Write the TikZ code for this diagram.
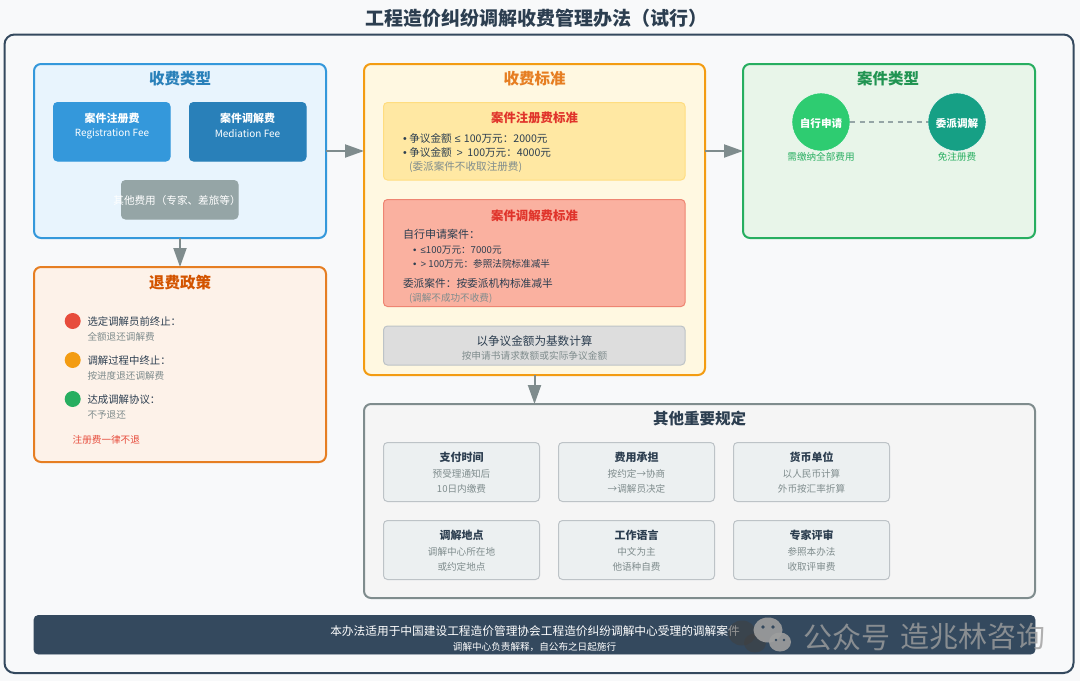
\documentclass[tikz,border=0pt]{standalone}
\usepackage{fontspec}
\setmainfont{Noto Sans CJK SC}
\newfontfamily\latinf{Liberation Sans}
\usetikzlibrary{arrows.meta,calc}
\definecolor{bgc}{HTML}{F8F9FA}
\definecolor{ink}{HTML}{2C3E50}
\definecolor{subc}{HTML}{7F8C8D}
\definecolor{navy}{HTML}{34495E}
\definecolor{blue1}{HTML}{3498DB}
\definecolor{blue2}{HTML}{2980B9}
\definecolor{panelblue}{HTML}{E8F4FD}
\definecolor{panelyellow}{HTML}{FFF8E1}
\definecolor{orange1}{HTML}{F39C12}
\definecolor{orange2}{HTML}{E67E22}
\definecolor{orange3}{HTML}{D35400}
\definecolor{panelgreen}{HTML}{E8F5E9}
\definecolor{green1}{HTML}{27AE60}
\definecolor{green2}{HTML}{2ECC71}
\definecolor{teal1}{HTML}{16A085}
\definecolor{panelorange}{HTML}{FDF2E9}
\definecolor{panelgrey}{HTML}{F5F5F5}
\definecolor{cardc}{HTML}{ECF0F1}
\definecolor{edgec}{HTML}{BDC3C7}
\definecolor{red1}{HTML}{E74C3C}
\definecolor{red2}{HTML}{E0342B}
\definecolor{yfill}{HTML}{FFE8A3}
\definecolor{yedge}{HTML}{FFDD80}
\definecolor{rfill}{HTML}{FAB1A0}
\definecolor{redge}{HTML}{EE8572}
\definecolor{gfill}{HTML}{DDDDDD}
\definecolor{greyc}{HTML}{95A5A6}
\tikzset{
  x=1pt,y=-1pt,
  boxbase/.style={rectangle,inner sep=0pt,outer sep=0pt,draw},
  panel/.style={boxbase,rounded corners=7pt,line width=2pt},
  inner box/.style={boxbase,rounded corners=4pt,line width=1pt},
  card/.style={inner box,fill=cardc,draw=edgec},
  txt/.style={inner sep=0pt,outer sep=0pt,text=ink},
  leftt/.style={txt,anchor=west},
  fs/.style={font=\fontsize{#1}{#1}\selectfont},
  fb/.style={font=\fontsize{#1}{#1}\selectfont\bfseries},
  flow/.style={draw=subc,line width=2pt,-{Triangle[length=19pt,width=13pt]}},
  dot/.style={circle,inner sep=0pt,outer sep=0pt,minimum size=16pt},
  case/.style={circle,inner sep=0pt,outer sep=0pt,minimum size=58pt,draw=white,line width=.4pt},
  cardhead/.style={txt,fb=11},
  cardsub/.style={txt,fs=9.6,text=subc},
  wm/.style={txt,fs=29,text=white!62!black,opacity=.8},
}
\newcommand{\bx}[6]{\node[#2,minimum width={(#5-#3)*1pt},minimum height={(#6-#4)*1pt}] (#1) at ({(#3+#5)/2},{(#4+#6)/2}) {};}
\newcommand{\tx}[5]{\node[#2] (#1) at (#3,#4) {#5};}
\newcommand{\lsym}[1]{\hspace{.3em}{\latinf #1}\hspace{.3em}}
\newcommand{\ssym}[1]{{\latinf #1}}
\newcommand{\bul}{{\latinf\textbullet}\hspace{.25em}}
\newcommand{\bulw}{{\latinf\textbullet}\hspace{.45em}}
\newcommand{\cardblock}[6]{%
  \bx{#1}{card}{#2}{#3}{#2+156}{#3+59}
  \tx{#1h}{cardhead}{#2+78}{#3+15}{#4}
  \tx{#1a}{cardsub}{#2+78}{#3+31}{#5}
  \tx{#1b}{cardsub}{#2+78}{#3+46}{#6}}
\begin{document}
\begin{tikzpicture}
\useasboundingbox (0,0) rectangle (1080,681);
\fill[bgc] (0,0) rectangle (1080,681);
\tx{title}{txt,fb=19}{536}{18}{工程造价纠纷调解收费管理办法（试行）}
\bx{outer}{boxbase,rounded corners=10pt,line width=2pt,draw=navy,fill=bgc}{4.5}{34.5}{1073.5}{673}

% panels
\bx{fee}{panel,draw=blue1,fill=panelblue}{34}{64}{326}{238}
\bx{std}{panel,draw=orange1,fill=panelyellow}{364}{64}{705}{375}
\bx{kind}{panel,draw=green1,fill=panelgreen}{743}{64}{1035}{238}
\bx{refund}{panel,draw=orange2,fill=panelorange}{34}{267}{326}{462}
\bx{other}{panel,draw=subc,fill=panelgrey}{364}{404}{1035}{598}

% connectors between panels
\draw[flow] (fee.east) -- (fee.east -| std.west);
\draw[flow] (std.east |- kind.west) -- (kind.west);
\draw[flow] (fee.south) -- (refund.north);
\draw[flow] (std.south) -- (std.south |- other.north);

% fee types
\tx{feeT}{txt,fb=15.5,text=blue2}{180}{78.5}{收费类型}
\bx{reg}{inner box,draw=blue1,fill=blue1}{53.5}{102.5}{170}{161}
\tx{regA}{txt,fb=11,text=white}{112}{118.5}{案件注册费}
\tx{regB}{txt,fs=9.9,text=white}{112}{133.5}{Registration Fee}
\bx{med}{inner box,draw=blue2,fill=blue2}{189.5}{102.5}{306}{161}
\tx{medA}{txt,fb=11,text=white}{247.5}{118.5}{案件调解费}
\tx{medB}{txt,fs=10,text=white}{247.5}{133.5}{Mediation Fee}
\bx{oth}{inner box,draw=greyc,fill=greyc}{121.5}{180.5}{238}{219}
\tx{othA}{txt,fs=10.6,text=white}{177}{200.5}{其他费用（专家、差旅等）}

% standards
\tx{stdT}{txt,fb=15.5,text=orange2}{534.5}{78.5}{收费标准}
\bx{yel}{inner box,draw=yedge,fill=yfill}{383.5}{102.5}{685}{180}
\tx{yelT}{txt,fb=12.4,text=red2}{534.5}{117.5}{案件注册费标准}
\tx{yelA}{leftt,fs=10.6}{403}{138}{\bul 争议金额\lsym{≤}100万元：2000元}
\tx{yelB}{leftt,fs=10.6}{403}{152}{\bul 争议金额\lsym{\hspace{.15em}>\hspace{.15em}}100万元：4000元}
\tx{yelC}{leftt,fs=10.6,text=subc}{409}{167}{(委派案件不收取注册费)}
\bx{redb}{inner box,draw=redge,fill=rfill}{383.5}{199.5}{685}{306.5}
\tx{redT}{txt,fb=12.4,text=red2}{534.5}{215.5}{案件调解费标准}
\tx{redA}{leftt,fs=11}{403}{234}{自行申请案件：}
\tx{redB}{leftt,fs=9.6}{413}{250}{\bulw\ssym{≤}100万元：7000元}
\tx{redC}{leftt,fs=9.6}{413}{264}{\bulw\ssym{>} 100万元：参照法院标准减半}
\tx{redD}{leftt,fs=10.7}{403}{283}{委派案件：按委派机构标准减半}
\tx{redE}{leftt,fs=9.6,text=subc}{409}{298}{(调解不成功不收费)}
\bx{base}{inner box,draw=edgec,fill=gfill}{383.5}{326}{685}{365}
\tx{baseA}{txt,fs=11.6}{534.5}{341}{以争议金额为基数计算}
\tx{baseB}{txt,fs=9.7,text=subc}{534.5}{356}{按申请书请求数额或实际争议金额}

% case types
\tx{kindT}{txt,fb=15.5,text=green1!85!black}{888}{78.5}{案件类型}
\node[case,fill=green2] (self) at (821,122) {};
\node[case,fill=teal1] (dele) at (957,122) {};
\tx{selfT}{txt,fb=10.6,text=white}{821}{123}{自行申请}
\tx{deleT}{txt,fb=10.6,text=white}{957}{123}{委派调解}
\draw[draw=greyc,line width=1.6pt,dash pattern=on 5pt off 4.5pt] (self) -- (dele);
\tx{selfS}{txt,fs=9.6,text=green1}{821}{157}{需缴纳全部费用}
\tx{deleS}{txt,fs=9.6,text=green1}{957}{157}{免注册费}

% refund
\tx{refT}{txt,fb=15.5,text=orange3}{180}{282.5}{退费政策}
\node[dot,fill=red1] (d1) at (72.7,321) {};
\node[dot,fill=orange1] (d2) at (72.7,360) {};
\node[dot,fill=green1] (d3) at (72.7,399) {};
\tx{r1a}{leftt,fs=10.4}{87.5}{322}{选定调解员前终止：}
\tx{r1b}{leftt,fs=9.6,text=subc}{87.5}{337}{全额退还调解费}
\tx{r2a}{leftt,fs=10.4}{87.5}{361}{调解过程中终止：}
\tx{r2b}{leftt,fs=9.6,text=subc}{87.5}{376}{按进度退还调解费}
\tx{r3a}{leftt,fs=10.4}{87.5}{399.5}{达成调解协议：}
\tx{r3b}{leftt,fs=9.6,text=subc}{87.5}{415}{不予退还}
\tx{r4}{leftt,fs=9.6,text=red1}{72.7}{439.5}{注册费一律不退}

% other rules
\tx{otherT}{txt,fb=15.5}{699.5}{418.5}{其他重要规定}
\cardblock{c1}{383.5}{442.5}{支付时间}{预受理通知后}{10日内缴费}
\cardblock{c2}{558.5}{442.5}{费用承担}{按约定→协商}{→调解员决定}
\cardblock{c3}{733.5}{442.5}{货币单位}{以人民币计算}{外币按汇率折算}
\cardblock{c4}{383.5}{520.5}{调解地点}{调解中心所在地}{或约定地点}
\cardblock{c5}{558.5}{520.5}{工作语言}{中文为主}{他语种自费}
\cardblock{c6}{733.5}{520.5}{专家评审}{参照本办法}{收取评审费}

% banner
\bx{ban}{boxbase,rounded corners=4pt,line width=.6pt,draw=navy,fill=navy}{34}{615.5}{1035}{654}
\tx{banA}{txt,fs=11.7,text=white}{535}{631}{本办法适用于中国建设工程造价管理协会工程造价纠纷调解中心受理的调解案件}
\tx{banB}{txt,fs=9.6,text=white}{534.5}{646.5}{调解中心负责解释，自公布之日起施行}

% watermark
\fill[black!75,opacity=.55] (742,633) ellipse (14pt and 12.5pt);
\fill[black!75,opacity=.55] (755,643) ellipse (11pt and 9.5pt);
\fill[white!62!black,opacity=.9] (768,630) ellipse (14.5pt and 12.5pt);
\fill[white!62!black,opacity=.9] (780,642) ellipse (11pt and 9.5pt);
\fill[navy] (763,627) circle (1.8pt) (773,627) circle (1.8pt) (776,640) circle (1.3pt) (784,640) circle (1.3pt);
\tx{wmA}{wm,anchor=west}{803}{637}{公众号}
\tx{wmB}{wm,anchor=west}{900}{637}{造兆林咨询}
\end{tikzpicture}
\end{document}
